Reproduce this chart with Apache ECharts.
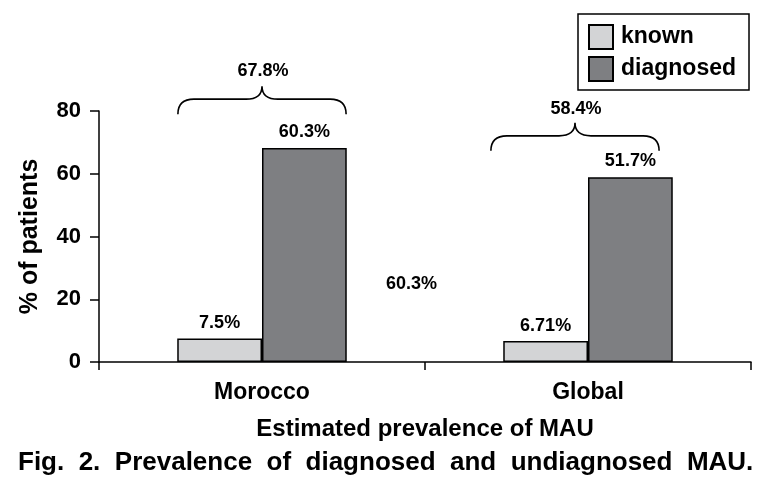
<!DOCTYPE html>
<html>
<head>
<meta charset="utf-8">
<script src="https://cdn.jsdelivr.net/npm/echarts@6/dist/echarts.min.js"></script>
<style>
html,body{margin:0;padding:0;background:#fff;}
#chart{width:766px;height:489px;}
</style>
</head>
<body>
<div id="chart"></div>
<script>
// ---- data ----
const categories = ['Morocco', 'Global'];
const knownValues = [7.5, 6.71];
const diagnosedValues = [68.2, 58.9];
const knownLabels = ['7.5%', '6.71%'];
const diagnosedLabels = ['60.3%', '51.7%'];
const braceValues = [79, 67.3];          // value where brace ends sit
const braceLabels = ['67.8%', '58.4%'];
const strayLabel = '60.3%';
const yTicks = [0, 20, 40, 60, 80];

// ---- layout / style ----
const FONT = '"Liberation Sans", Arial, Helvetica, sans-serif';
const braceOffsetPx = [0, -13];
const braceLabelGap = [6, 5];

const chart = echarts.init(document.getElementById('chart'), null, {renderer: 'canvas'});

function braceRender(params, api) {
  const idx = params.dataIndex;
  const c = api.coord([api.value(0), api.value(1)]);
  const band = api.size([1, 0])[0];
  const half = band * 0.258;
  const xc = c[0] + braceOffsetPx[idx];
  const yb = c[1];
  const yh = yb - 15;
  const yt = yb - 28;
  const xl = xc - half, xr = xc + half;
  const r = 16;
  const path = `M${xl},${yb} Q${xl},${yh} ${xl + r},${yh} L${xc - r},${yh} ` +
    `Q${xc},${yh} ${xc},${yt} Q${xc},${yh} ${xc + r},${yh} L${xr - r},${yh} Q${xr},${yh} ${xr},${yb}`;
  return {
    type: 'group',
    children: [
      {type: 'path', shape: {pathData: path}, style: {fill: null, stroke: '#000', lineWidth: 1.6}},
      {type: 'text', style: {text: braceLabels[idx], x: xc + 1, y: yt - braceLabelGap[idx], align: 'center', verticalAlign: 'bottom',
        font: 'bold 18px ' + FONT, fill: '#000'}}
    ]
  };
}

const option = {
  animation: false,
  backgroundColor: '#fff',
  title: {
    text: 'Fig.  2.  Prevalence  of  diagnosed  and  undiagnosed  MAU.',
    left: 18, top: 450, padding: 0,
    textStyle: {fontFamily: FONT, fontWeight: 'bold', fontSize: 26, color: '#000'}
  },
  legend: {
    orient: 'vertical',
    left: 578, top: 14,
    padding: [10, 13, 8, 10],
    itemWidth: 24, itemHeight: 24, itemGap: 6,
    borderColor: '#000', borderWidth: 1.5,
    icon: 'rect',
    textStyle: {fontFamily: FONT, fontWeight: 'bold', fontSize: 23, color: '#000', padding: [3, 0, 0, 3]},
    data: ['known', 'diagnosed']
  },
  grid: {left: 99, right: 15, top: 111, bottom: 127, containLabel: false},
  xAxis: {
    type: 'category',
    data: categories,
    name: 'Estimated prevalence of MAU',
    nameLocation: 'middle',
    nameGap: 55,
    nameTextStyle: {fontFamily: FONT, fontWeight: 'bold', fontSize: 24, color: '#000'},
    axisLine: {lineStyle: {color: '#000', width: 1.5}},
    axisTick: {show: true, length: 8, lineStyle: {color: '#000', width: 1.5}},
    axisLabel: {margin: 19, fontFamily: FONT, fontWeight: 'bold', fontSize: 23, color: '#000'}
  },
  yAxis: {
    type: 'value',
    min: 0, max: 80, interval: 20,
    name: '% of patients',
    nameLocation: 'middle',
    nameRotate: 90,
    nameGap: 56,
    nameTextStyle: {fontFamily: FONT, fontWeight: 'bold', fontSize: 25, color: '#000'},
    axisLine: {show: true, lineStyle: {color: '#000', width: 1.5}},
    axisTick: {show: true, length: 9, lineStyle: {color: '#000', width: 1.5}},
    splitLine: {show: false},
    axisLabel: {margin: 18, fontFamily: FONT, fontWeight: 'bold', fontSize: 22, color: '#000',
      formatter: v => yTicks.includes(v) ? String(v) : ''}
  },
  series: [
    {
      name: 'known', type: 'bar', data: knownValues,
      barGap: '0%', barCategoryGap: '48%',
      itemStyle: {color: '#d3d4d6', borderColor: '#000', borderWidth: 1.5},
      label: {show: true, position: 'top', distance: 6, fontFamily: FONT, fontWeight: 'bold', fontSize: 18, color: '#000',
        formatter: p => knownLabels[p.dataIndex]}
    },
    {
      name: 'diagnosed', type: 'bar', data: diagnosedValues,
      itemStyle: {color: '#7e7f82', borderColor: '#000', borderWidth: 1.5},
      label: {show: true, position: 'top', distance: 7, fontFamily: FONT, fontWeight: 'bold', fontSize: 18, color: '#000',
        formatter: p => diagnosedLabels[p.dataIndex]}
    },
    {
      name: 'brace', type: 'custom', renderItem: braceRender,
      data: categories.map((c, i) => [i, braceValues[i]]),
      z: 5, silent: true
    }
  ],
  graphic: [
    {type: 'text', left: 386, top: 275, style: {text: strayLabel, font: 'bold 18px ' + FONT, fill: '#000'}}
  ]
};
chart.setOption(option);
</script>
</body>
</html>
